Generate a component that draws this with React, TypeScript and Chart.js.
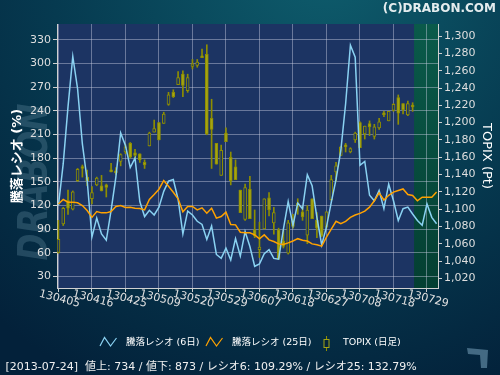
import React, { useEffect, useRef } from "react";
import { Chart, registerables } from "chart.js";

Chart.register(...registerables);

// ---- data ----
const dayTicks = [0, 7, 14, 21, 28, 35, 42, 49, 56, 63, 70, 77];
const dayLabels = ["130405", "130416", "130425", "130509", "130520", "130529", "130607", "130618", "130627", "130708", "130718", "130729"];
const leftTicks = [30, 60, 90, 120, 150, 180, 210, 240, 270, 300, 330];
const rightTicks = [1020, 1040, 1060, 1080, 1100, 1120, 1140, 1160, 1180, 1200, 1220, 1240, 1260, 1280, 1300];

const opens = [1050, 1083, 1110, 1100, 1133, 1149, 1137, 1112, 1128, 1127, 1128, 1145, 1144, 1155, 1166, 1176, 1165, 1164, 1154, 1173, 1189, 1200, 1199, 1221, 1235, 1244, 1256, 1237, 1265, 1266, 1277, 1279, 1205, 1176, 1139, 1188, 1160, 1149, 1122, 1088, 1123, 1076, 1053, 1077, 1113, 1084, 1076, 1063, 1049, 1087, 1103, 1097, 1070, 1112, 1087, 1092, 1079, 1111, 1143, 1162, 1174, 1166, 1180, 1200, 1187, 1199, 1184, 1194, 1211, 1202, 1214, 1229, 1222, 1209, 1220];
const highs = [1087, 1102, 1122, 1121, 1147, 1151, 1145, 1126, 1137, 1139, 1129, 1153, 1148, 1164, 1175, 1177, 1169, 1164, 1157, 1189, 1203, 1200, 1212, 1235, 1238, 1259, 1260, 1256, 1273, 1273, 1285, 1290, 1227, 1176, 1174, 1194, 1166, 1157, 1122, 1129, 1138, 1099, 1085, 1112, 1119, 1102, 1078, 1076, 1087, 1094, 1112, 1103, 1104, 1112, 1096, 1092, 1097, 1139, 1154, 1172, 1176, 1171, 1189, 1201, 1196, 1202, 1198, 1205, 1213, 1213, 1222, 1232, 1222, 1225, 1223];
const lows = [1049, 1081, 1094, 1099, 1132, 1137, 1127, 1106, 1127, 1121, 1114, 1143, 1140, 1150, 1164, 1159, 1158, 1154, 1147, 1173, 1189, 1180, 1199, 1220, 1229, 1244, 1230, 1235, 1262, 1264, 1275, 1186, 1147, 1152, 1139, 1178, 1128, 1134, 1096, 1087, 1089, 1067, 1044, 1077, 1092, 1071, 1042, 1055, 1048, 1078, 1094, 1087, 1060, 1089, 1067, 1068, 1078, 1110, 1132, 1162, 1166, 1165, 1177, 1171, 1181, 1185, 1181, 1192, 1207, 1202, 1213, 1198, 1210, 1208, 1213];
const closes = [1065, 1101, 1101, 1120, 1146, 1147, 1133, 1119, 1136, 1121, 1125, 1143, 1142, 1163, 1172, 1160, 1162, 1157, 1151, 1188, 1193, 1180, 1210, 1232, 1230, 1252, 1243, 1252, 1268, 1270, 1275, 1187, 1192, 1152, 1168, 1178, 1133, 1134, 1096, 1125, 1089, 1069, 1056, 1112, 1099, 1096, 1042, 1057, 1084, 1080, 1107, 1091, 1099, 1089, 1078, 1069, 1097, 1134, 1150, 1172, 1172, 1170, 1188, 1171, 1196, 1195, 1195, 1201, 1209, 1213, 1221, 1211, 1215, 1222, 1218];

const ratio6 = [120, 173, 245, 309, 268, 198, 152, 80, 104, 84, 76, 114, 156, 212, 196, 168, 180, 125, 106, 114, 108, 118, 138, 151, 153, 128, 84, 113, 108, 100, 96, 77, 94, 58, 53, 66, 51, 78, 56, 87, 68, 43, 46, 59, 64, 53, 52, 90, 125, 95, 123, 116, 159, 145, 105, 70, 93, 124, 153, 190, 249, 323, 308, 171, 176, 133, 126, 139, 116, 147, 126, 101, 116, 118, 109.3, 101, 95, 122, 105, 97];
const ratio25 = [122, 127.6, 124.3, 124.3, 123.4, 120, 113.7, 105, 112.4, 110.7, 110.7, 112.4, 118.8, 120, 117.5, 117.9, 116.6, 116.2, 114.5, 127.6, 134, 140.7, 151.7, 144.5, 136.9, 128.5, 112, 118.8, 118.8, 114.5, 117.1, 110.3, 116.6, 104, 106.1, 111.6, 96, 95.5, 86.2, 85.4, 85.4, 82.8, 77.8, 82.8, 76.5, 74.4, 71.4, 70.6, 72.7, 75, 78, 76, 75, 71.4, 70.2, 68.5, 80, 90, 100, 97, 100, 105, 108, 110, 113, 118, 126, 136, 127, 133, 137, 139, 141, 134, 132.8, 126, 130.6, 130.6, 130.6, 137];

const shadeFrom = 74.3; // days after the last trading day are shaded
const statusDate = "2013-07-24";
const advances = 734;
const declines = 873;
const ratio6Last = "109.29";
const ratio25Last = "132.79";

// ---- styles ----
const FONT = '"DejaVu Sans", "Noto Sans CJK JP", sans-serif';
const OLIVE = "#a4a414";
const OLIVE_EDGE = "#8e8e00";
const PLOT_BG = "#1c3463";
const BLUE = "#8ad2f2";
const ORANGE = "#ffa200";
const GRID = "rgba(200,205,225,0.45)";
const AXIS = "#d0d0d0";
const TICKC = "#cfcfcf";

export default function App() {
  const ref = useRef<HTMLCanvasElement | null>(null);

  useEffect(() => {
    const canvas = ref.current as HTMLCanvasElement;
    const isUp = (i: number) => closes[i] >= opens[i];

    const decor: any = {
      id: "decor",
      beforeDraw(chart: any) {
        const { ctx, chartArea: a, scales } = chart;
        const W = chart.width, H = chart.height;
        ctx.save();
        const g = ctx.createRadialGradient(330, -40, 10, 300, -40, 470);
        g.addColorStop(0, "#0e5c6c");
        g.addColorStop(0.55, "#063a50");
        g.addColorStop(1, "#03213a");
        ctx.fillStyle = g;
        ctx.fillRect(0, 0, W, H);

        // header
        ctx.font = 'bold 12px "DejaVu Sans"';
        ctx.fillStyle = "#e4ecee";
        ctx.textAlign = "right";
        ctx.textBaseline = "alphabetic";
        ctx.fillText("(C)DRABON.COM", 496, 12);

        // watermark
        ctx.save();
        ctx.translate(37, 182);
        ctx.rotate(-Math.PI / 2);
        ctx.font = 'italic bold 40px "DejaVu Sans"';
        const w = ctx.measureText("DRABON").width;
        ctx.scale(157 / w, 1);
        ctx.fillStyle = "rgba(110,150,170,0.3)";
        ctx.textAlign = "center";
        ctx.textBaseline = "middle";
        ctx.fillText("DRABON", 0, 0);
        ctx.restore();

        // bottom-right mark
        ctx.fillStyle = "rgba(90,130,155,0.75)";
        ctx.beginPath();
        ctx.moveTo(467, 348);
        ctx.lineTo(488, 350);
        ctx.lineTo(487, 368);
        ctx.lineTo(481, 368);
        ctx.lineTo(480, 355);
        ctx.lineTo(468, 354);
        ctx.closePath();
        ctx.fill();

        // plot area
        ctx.fillStyle = PLOT_BG;
        ctx.fillRect(a.left, a.top, a.right - a.left, a.bottom - a.top);
        const gx = scales.x.getPixelForValue(shadeFrom);
        const gg = ctx.createLinearGradient(0, a.top, 0, a.bottom);
        gg.addColorStop(0, "#0a5a4a");
        gg.addColorStop(1, "#043f32");
        ctx.fillStyle = gg;
        ctx.fillRect(gx, a.top, a.right - gx, a.bottom - a.top);
        ctx.restore();
      },
      afterDraw(chart: any) {
        const { ctx, scales } = chart;
        ctx.save();
        // rotated date labels
        ctx.font = '11px "DejaVu Sans"';
        ctx.fillStyle = "#e0e0e0";
        ctx.textAlign = "center";
        ctx.textBaseline = "middle";
        dayTicks.forEach((d, k) => {
          const px = scales.x.getPixelForValue(d);
          ctx.save();
          ctx.translate(px + 1, 299);
          ctx.rotate(0.25);
          ctx.fillText(dayLabels[k], 0, 0);
          ctx.restore();
        });

        // legend
        const ly = 342.5;
        const zig = (x0: number, color: string) => {
          ctx.strokeStyle = color;
          ctx.lineWidth = 1.2;
          ctx.beginPath();
          ctx.moveTo(x0, 346);
          ctx.lineTo(x0 + 4.5, 337.5);
          ctx.lineTo(x0 + 10.5, 346);
          ctx.lineTo(x0 + 16.5, 338);
          ctx.stroke();
        };
        ctx.font = "9.5px " + FONT;
        ctx.fillStyle = "#ffffff";
        ctx.textAlign = "left";
        ctx.textBaseline = "middle";
        zig(100, BLUE);
        ctx.fillText(chart.data.datasets[1].label, 126, ly);
        zig(206, ORANGE);
        ctx.fillText(chart.data.datasets[0].label, 232, ly);
        ctx.strokeStyle = OLIVE_EDGE;
        ctx.lineWidth = 1;
        ctx.beginPath();
        ctx.moveTo(326.5, 336);
        ctx.lineTo(326.5, 351);
        ctx.stroke();
        ctx.fillStyle = "#05243a";
        ctx.fillRect(324, 339.5, 5, 8);
        ctx.strokeStyle = "#a4a414";
        ctx.strokeRect(324, 339.5, 5, 8);
        ctx.fillStyle = "#ffffff";
        ctx.fillText("TOPIX (日足)", 343, ly);

        // status line
        ctx.font = "11px " + FONT;
        ctx.fillStyle = "#f0f0f0";
        ctx.textBaseline = "alphabetic";
        ctx.fillText(
          "[" + statusDate + "]  値上: " + advances + " / 値下: " + declines +
            " / レシオ6: " + ratio6Last + "% / レシオ25: " + ratio25Last + "%",
          5.5,
          370
        );
        ctx.restore();
      },
    };

    const chart = new Chart(canvas, {
      type: "bar",
      data: {
        datasets: [
          {
            type: "line",
            label: "騰落レシオ (25日)",
            data: ratio25.map((v, i) => ({ x: i, y: v })),
            yAxisID: "y",
            borderColor: ORANGE,
            borderWidth: 1.5,
            pointRadius: 0,
            tension: 0,
            order: 0,
          },
          {
            type: "line",
            label: "騰落レシオ (6日)",
            data: ratio6.map((v, i) => ({ x: i, y: v })),
            yAxisID: "y",
            borderColor: BLUE,
            borderWidth: 1.5,
            pointRadius: 0,
            tension: 0,
            order: 1,
          },
          {
            type: "bar",
            label: "TOPIX",
            data: opens.map((o, i) => ({ x: i, y: [o, closes[i]] })),
            yAxisID: "y1",
            barThickness: 3,
            grouped: false,
            borderSkipped: false,
            borderWidth: 1,
            borderColor: OLIVE_EDGE,
            backgroundColor: (c: any) => (isUp(c.dataIndex) ? PLOT_BG : OLIVE),
            minBarLength: 2,
            order: 2,
          },
          {
            type: "bar",
            label: "TOPIX range",
            data: lows.map((l, i) => ({ x: i, y: [l, highs[i]] })),
            yAxisID: "y1",
            barThickness: 1,
            grouped: false,
            borderWidth: 0,
            backgroundColor: OLIVE_EDGE,
            order: 3,
          },
        ] as any,
      },
      options: {
        responsive: false,
        animation: false,
        devicePixelRatio: 1,
        layout: { padding: { top: 24, left: 0, right: 0, bottom: 0 } },
        plugins: { legend: { display: false }, tooltip: { enabled: false } },
        scales: {
          x: {
            type: "linear",
            min: -0.3,
            max: 79.3,
            offset: false,
            afterBuildTicks: (s: any) => {
              s.ticks = dayTicks.map((v) => ({ value: v }));
            },
            afterFit: (s: any) => {
              s.height = 87;
            },
            ticks: { display: false },
            grid: { color: GRID, lineWidth: 1, offset: false, tickLength: 4, tickColor: TICKC },
            border: { color: AXIS, width: 1 },
          },
          y: {
            type: "linear",
            position: "left",
            min: 15.5,
            max: 350,
            afterBuildTicks: (s: any) => {
              s.ticks = leftTicks.map((v) => ({ value: v }));
            },
            afterFit: (s: any) => {
              s.width = 57;
            },
            ticks: { color: "#dedede", font: { family: FONT, size: 11 }, padding: 2 },
            grid: { color: GRID, lineWidth: 1, tickLength: 4, tickColor: TICKC },
            border: { color: AXIS, width: 1 },
            title: {
              display: true,
              text: "騰落レシオ (%)",
              color: "#ffffff",
              font: { family: FONT, size: 13, weight: "bold" },
              padding: { top: 10, bottom: 0 },
            },
          },
          y1: {
            type: "linear",
            position: "right",
            min: 1008.8,
            max: 1314,
            afterBuildTicks: (s: any) => {
              s.ticks = rightTicks.map((v) => ({ value: v }));
            },
            afterFit: (s: any) => {
              s.width = 62;
            },
            ticks: {
              color: "#dedede",
              font: { family: FONT, size: 11 },
              padding: 2,
              callback: (v: any) => Number(v).toLocaleString("en-US"),
            },
            grid: { drawOnChartArea: false, tickLength: 4, tickColor: TICKC },
            border: { color: AXIS, width: 1 },
            title: {
              display: true,
              text: "TOPIX (Pt)",
              color: "#ffffff",
              font: { family: FONT, size: 13 },
              padding: { top: 6, bottom: 0 },
            },
          },
        },
      } as any,
      plugins: [decor],
    });

    return () => chart.destroy();
  }, []);

  return (
    <div style={{ position: "fixed", left: 0, top: 0, width: 500, height: 375 }}>
      <canvas ref={ref} width={500} height={375} style={{ display: "block" }} />
    </div>
  );
}
